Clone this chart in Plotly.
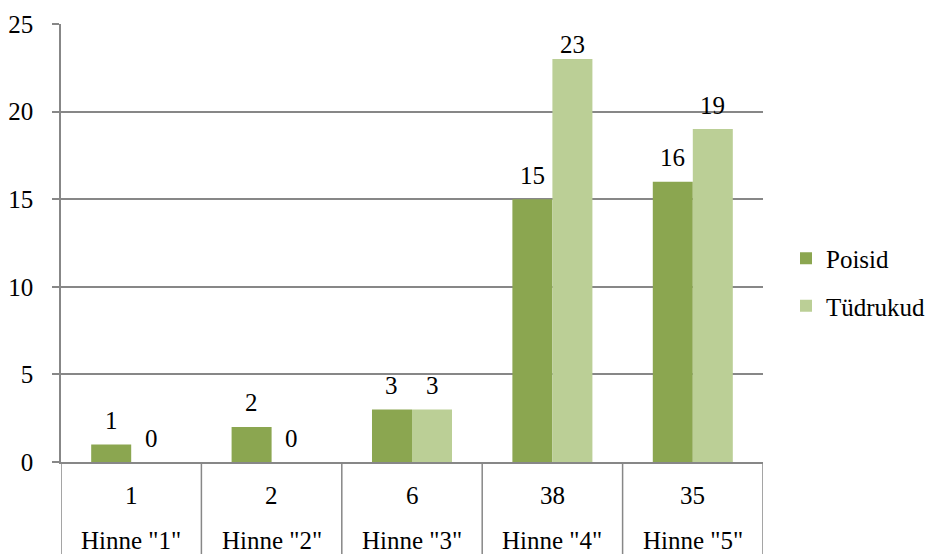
import plotly.graph_objects as go

# Grade distribution by gender
grades = ['Hinne "1"', 'Hinne "2"', 'Hinne "3"', 'Hinne "4"', 'Hinne "5"']
totals = [1, 2, 6, 38, 35]
poisid = [1, 2, 3, 15, 16]
tydrukud = [0, 0, 3, 23, 19]

C_BOYS = "#8BA650"
C_GIRLS = "#BBCF96"
GRID = "#878787"
FONT = ('"Liberation Serif", Tinos, "Times New Roman", "Noto Serif", "Nimbus Roman", '
        '"Nimbus Roman No9 L", FreeSerif, "DejaVu Serif", Times, serif')
FS = 25

W, H = 931, 554
ML, MR, MT, MB = 61, 168, 24, 92
plot_h = H - MT - MB
YMAX = 25
px_per_unit = plot_h / YMAX

bar_w = 0.285
xs = list(range(len(grades)))

fig = go.Figure()
fig.add_trace(go.Bar(
    x=xs, y=poisid, name="Poisid", width=bar_w, offset=-bar_w,
    marker=dict(color=C_BOYS, line=dict(width=0)), legendgroup="a",
))
fig.add_trace(go.Bar(
    x=xs, y=tydrukud, name="Tüdrukud", width=bar_w, offset=0,
    marker=dict(color=C_GIRLS, line=dict(width=0)), legendgroup="b",
))


def label_shift(v):
    # keep value labels inside the plotting area
    return min(24, (YMAX - v) * px_per_unit - 20)


annotations = []
# value labels above each bar
for i, v in enumerate(poisid):
    annotations.append(dict(x=i - bar_w / 2, y=v, xref="x", yref="y", text=str(v),
                            showarrow=False, yanchor="middle", yshift=label_shift(v),
                            font=dict(family=FONT, size=FS, color="black")))
for i, v in enumerate(tydrukud):
    annotations.append(dict(x=i + bar_w / 2, y=v, xref="x", yref="y", text=str(v),
                            showarrow=False, yanchor="middle", yshift=label_shift(v),
                            font=dict(family=FONT, size=FS, color="black")))

# table below the axis: totals row and grade names row
row1 = -(495 - (MT + plot_h)) / plot_h
row2 = -(540 - (MT + plot_h)) / plot_h
for i, (t, g) in enumerate(zip(totals, grades)):
    annotations.append(dict(x=i, y=row1, xref="x", yref="paper", text=str(t),
                            showarrow=False, yanchor="middle",
                            font=dict(family=FONT, size=FS, color="black")))
    annotations.append(dict(x=i, y=row2, xref="x", yref="paper", text=g,
                            showarrow=False, yanchor="middle",
                            font=dict(family=FONT, size=FS, color="black")))

# vertical separators of the category table
shapes = []
bottom = -MB / plot_h
for k in range(len(grades) + 1):
    shapes.append(dict(type="line", xref="x", yref="paper",
                       x0=k - 0.5, x1=k - 0.5, y0=0, y1=bottom,
                       line=dict(color=GRID, width=1.5)))

fig.update_layout(
    width=W, height=H,
    margin=dict(l=ML, r=MR, t=MT, b=MB, pad=0, autoexpand=False),
    paper_bgcolor="white", plot_bgcolor="white",
    font=dict(family=FONT, size=FS, color="black"),
    barmode="overlay",
    showlegend=True,
    legend=dict(x=(786 - ML) / (W - ML - MR), y=(462 - 282) / plot_h,
                xanchor="left", yanchor="middle",
                font=dict(family=FONT, size=FS, color="black"),
                traceorder="grouped", tracegroupgap=12,
                itemwidth=30, bgcolor="rgba(0,0,0,0)"),
    annotations=annotations,
    shapes=shapes,
    xaxis=dict(range=[-0.5, len(grades) - 0.5], showticklabels=False,
               showgrid=False, zeroline=False, showline=True,
               linecolor=GRID, linewidth=1.5, fixedrange=True),
    yaxis=dict(range=[0, YMAX], dtick=5, showgrid=True, gridcolor=GRID, gridwidth=1.5,
               zeroline=False, showline=True, linecolor=GRID, linewidth=1.5,
               ticks="outside", ticklen=7, tickcolor=GRID, tickwidth=1.5,
               ticklabelstandoff=14,
               tickfont=dict(family=FONT, size=FS, color="black")),
)

fig.write_html("out.html")
